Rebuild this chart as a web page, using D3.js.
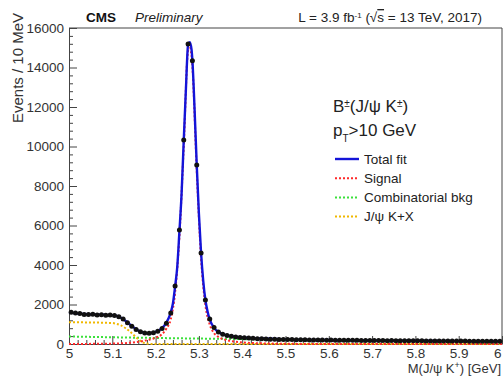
<!DOCTYPE html>
<html>
<head>
<meta charset="utf-8">
<script src="https://cdn.jsdelivr.net/npm/d3@7"></script>
<style>
  body { margin: 0; background: #fff; }
  svg { display: block; font-family: "Liberation Sans", Arial, sans-serif; }
</style>
</head>
<body>
<div id="chart"></div>
<script>
// binned data: 100 bins of 10 MeV from 5.0 to 6.0 GeV
const binStart = 5.0, binWidth = 0.01;
const counts = [
  1610,1570,1540,1500,1490,1510,1470,1480,1450,1470,
  1440,1380,1260,1080,900,740,620,560,540,570,
  650,780,1050,1570,2940,5770,10330,15190,14340,9060,
  4610,2230,1260,830,610,500,430,390,355,335,
  320,300,285,270,262,255,246,240,232,228,
  222,230,215,212,218,205,208,200,204,196,
  198,192,195,188,190,184,186,180,183,176,
  178,174,176,170,172,168,166,169,163,164,
  160,162,157,158,154,155,151,153,149,150,
  146,148,143,145,141,142,138,139,135,136
];

// fit components
const totalX = [5.0,5.02,5.05,5.08,5.1,5.11,5.12,5.13,5.14,5.15,5.16,5.17,5.18,5.19,5.2,5.21,5.22,5.23,5.235,5.24,5.245,5.25,5.255,5.26,5.265,5.27,5.275,5.279,5.283,5.285,5.29,5.295,5.3,5.305,5.31,5.315,5.32,5.325,5.335,5.345,5.36,5.38,5.4,5.45,5.5,5.6,5.7,5.8,5.9,6.0];
const totalY = [1600,1540,1500,1480,1460,1420,1330,1180,1000,830,680,590,550,560,610,720,920,1300,1600,2050,2900,3900,5700,7600,10300,12900,15150,15280,14900,14350,11900,9060,6600,4620,3200,2230,1650,1250,820,610,460,380,330,275,232,200,180,162,146,132];

const signalX = [5.0,5.1,5.14,5.16,5.175,5.185,5.195,5.205,5.215,5.225,5.235,5.245,5.255,5.265,5.275,5.279,5.283,5.285,5.295,5.305,5.315,5.325,5.335,5.345,5.36,5.38,5.4,5.45,5.5,5.6,6.0];
const signalY = [0,20,60,110,170,220,280,360,500,780,1250,2600,5450,10020,14850,14980,14600,14070,8780,4330,1960,990,550,360,220,130,80,30,10,0,0];

const combX = [5.0,5.1,5.2,5.3,5.4,5.5,5.6,5.7,5.8,5.9,6.0];
const combY = [380,340,305,275,248,222,200,180,162,146,132];

const jpsiXX = [5.0,5.05,5.1,5.11,5.12,5.13,5.14,5.15,5.16,5.17,5.18,5.19,5.3,6.0];
const jpsiXY = [1100,1090,1060,1020,940,810,640,440,240,90,20,0,0,0];

const xMajor = [5, 5.1, 5.2, 5.3, 5.4, 5.5, 5.6, 5.7, 5.8, 5.9, 6];
const yMajor = [0, 2000, 4000, 6000, 8000, 10000, 12000, 14000, 16000];

const margin = {top: 28, right: 1, bottom: 36, left: 69},
    width = 503 - margin.left - margin.right,
    height = 380 - margin.top - margin.bottom;

const svgRoot = d3.select("#chart")
  .append("svg")
    .attr("width", 503)
    .attr("height", 380);

const svg = svgRoot.append("g")
    .attr("transform", `translate(${margin.left}, ${margin.top})`);

const x = d3.scaleLinear().domain([5, 6]).range([0, 433]);
const y = d3.scaleLinear().domain([0, 16000]).range([height, 0]);

const axisColor = "#444", labelColor = "#333";

// minor ticks
const xMinor = d3.range(5, 6.0001, 0.02).filter(v => Math.abs(Math.round(v * 10) - v * 10) > 1e-6);
const yMinor = d3.range(0, 16001, 400).filter(v => v % 2000 !== 0);

svg.append("g")
  .attr("transform", `translate(0, ${height})`)
  .call(d3.axisBottom(x).tickValues(xMinor).tickSize(-4).tickSizeOuter(0).tickFormat(""))
  .call(g => g.select(".domain").remove());
svg.append("g")
  .call(d3.axisLeft(y).tickValues(yMinor).tickSize(-4).tickSizeOuter(0).tickFormat(""))
  .call(g => g.select(".domain").remove());

// Add X axis
const xAxis = svg.append("g")
  .attr("transform", `translate(0, ${height})`)
  .call(d3.axisBottom(x).tickValues(xMajor).tickSize(-8).tickSizeOuter(0).tickPadding(4)
    .tickFormat(d => d === 5 || d === 6 ? d3.format("d")(d) : d3.format(".1f")(d)));
xAxis.selectAll("text").style("font-size", "13.5px").attr("fill", labelColor);
// last label sits on the right edge, keep it inside the page
xAxis.selectAll("text").filter(d => d === 6).attr("text-anchor", "end").attr("dx", "-1");

// Y axis
const yAxis = svg.append("g")
  .call(d3.axisLeft(y).tickValues(yMajor).tickSize(-8).tickSizeOuter(0).tickPadding(5)
    .tickFormat(d3.format("d")));
yAxis.selectAll("text").style("font-size", "13.5px").attr("fill", labelColor);

svg.selectAll(".tick line").attr("stroke", axisColor);
svg.selectAll(".domain").attr("stroke", axisColor);

// frame top / right
svg.append("line").attr("x1", 0).attr("x2", 433).attr("y1", 0).attr("y2", 0).attr("stroke", axisColor);
svg.append("line").attr("x1", 433).attr("x2", 433).attr("y1", 0).attr("y2", height).attr("stroke", axisColor);

// curves
const curve = (xs, ys) => d3.line()
  .x((d, i) => x(xs[i]))
  .y(d => y(d))
  .curve(d3.curveMonotoneX)(ys);

svg.append("path").attr("d", curve(combX, combY))
  .attr("fill", "none").attr("stroke", "#3be03b").attr("stroke-width", 2).attr("stroke-dasharray", "2,2");
svg.append("path").attr("d", curve(jpsiXX, jpsiXY))
  .attr("fill", "none").attr("stroke", "#f0b800").attr("stroke-width", 2).attr("stroke-dasharray", "2,2");
svg.append("path").attr("d", curve(signalX, signalY))
  .attr("fill", "none").attr("stroke", "#ff2a2a").attr("stroke-width", 2).attr("stroke-dasharray", "2,2");
svg.append("path").attr("d", curve(totalX, totalY))
  .attr("fill", "none").attr("stroke", "#1414d8").attr("stroke-width", 2.4);

// data points
svg.selectAll("circle.pt")
  .data(counts)
  .join("circle")
    .attr("class", "pt")
    .attr("cx", (d, i) => x(binStart + binWidth * (i + 0.5)))
    .attr("cy", d => y(d))
    .attr("r", 2.5)
    .style("fill", "#111");

// axis titles
const xt = svgRoot.append("text")
  .attr("x", 501).attr("y", 373)
  .attr("text-anchor", "end")
  .style("font-size", "13px").attr("fill", labelColor);
xt.append("tspan").text("M(J/ψ K");
xt.append("tspan").text("+").style("font-size", "9px").attr("baseline-shift", "super");
xt.append("tspan").text(") [GeV]");

svgRoot.append("text")
  .attr("transform", "translate(23, 13) rotate(-90)")
  .attr("text-anchor", "end")
  .style("font-size", "15px").attr("fill", labelColor)
  .text("Events / 10 MeV");

// header
svgRoot.append("text").attr("x", 86).attr("y", 22)
  .style("font-size", "13.5px").style("font-weight", "bold").attr("fill", "#111").text("CMS");
svgRoot.append("text").attr("x", 135).attr("y", 22)
  .style("font-size", "13.5px").style("font-style", "italic").attr("fill", "#222").text("Preliminary");
const lumi = svgRoot.append("text").attr("x", 482).attr("y", 22)
  .attr("text-anchor", "end")
  .style("font-size", "13.5px").attr("fill", "#222");
lumi.append("tspan").text("L = 3.9 fb");
lumi.append("tspan").text("-1").style("font-size", "8px").attr("baseline-shift", "super");
lumi.append("tspan").text(" (√");
lumi.append("tspan").text("s").style("text-decoration", "overline");
lumi.append("tspan").text(" = 13 TeV, 2017)");

// legend
const title = svgRoot.append("text").attr("x", 333).attr("y", 112)
  .style("font-size", "17px").attr("fill", "#222");
title.append("tspan").text("B");
title.append("tspan").text("±").style("font-size", "10px").attr("baseline-shift", "super");
title.append("tspan").text("(J/ψ K");
title.append("tspan").text("±").style("font-size", "10px").attr("baseline-shift", "super");
title.append("tspan").text(")");

const pt = svgRoot.append("text").attr("x", 333).attr("y", 136)
  .style("font-size", "17px").attr("fill", "#222");
pt.append("tspan").text("p");
pt.append("tspan").text("T").style("font-size", "10px").attr("baseline-shift", "sub");
pt.append("tspan").text(">10 GeV");

const legendNames = ["Total fit", "Signal", "Combinatorial bkg", "J/ψ K+X"];
const legendColors = ["#1414d8", "#ff2a2a", "#3be03b", "#f0b800"];
const legendDash = [null, "2,2", "2,2", "2,2"];

legendNames.forEach((name, i) => {
  const ly = 159 + i * 19.2;
  svgRoot.append("line")
    .attr("x1", 335).attr("x2", 359).attr("y1", ly).attr("y2", ly)
    .attr("stroke", legendColors[i])
    .attr("stroke-width", i === 0 ? 2.4 : 2)
    .attr("stroke-dasharray", legendDash[i]);
  svgRoot.append("text")
    .attr("x", 364).attr("y", ly).attr("dy", "0.35em")
    .style("font-size", "13.5px").attr("fill", "#222")
    .text(name);
});
</script>
</body>
</html>
